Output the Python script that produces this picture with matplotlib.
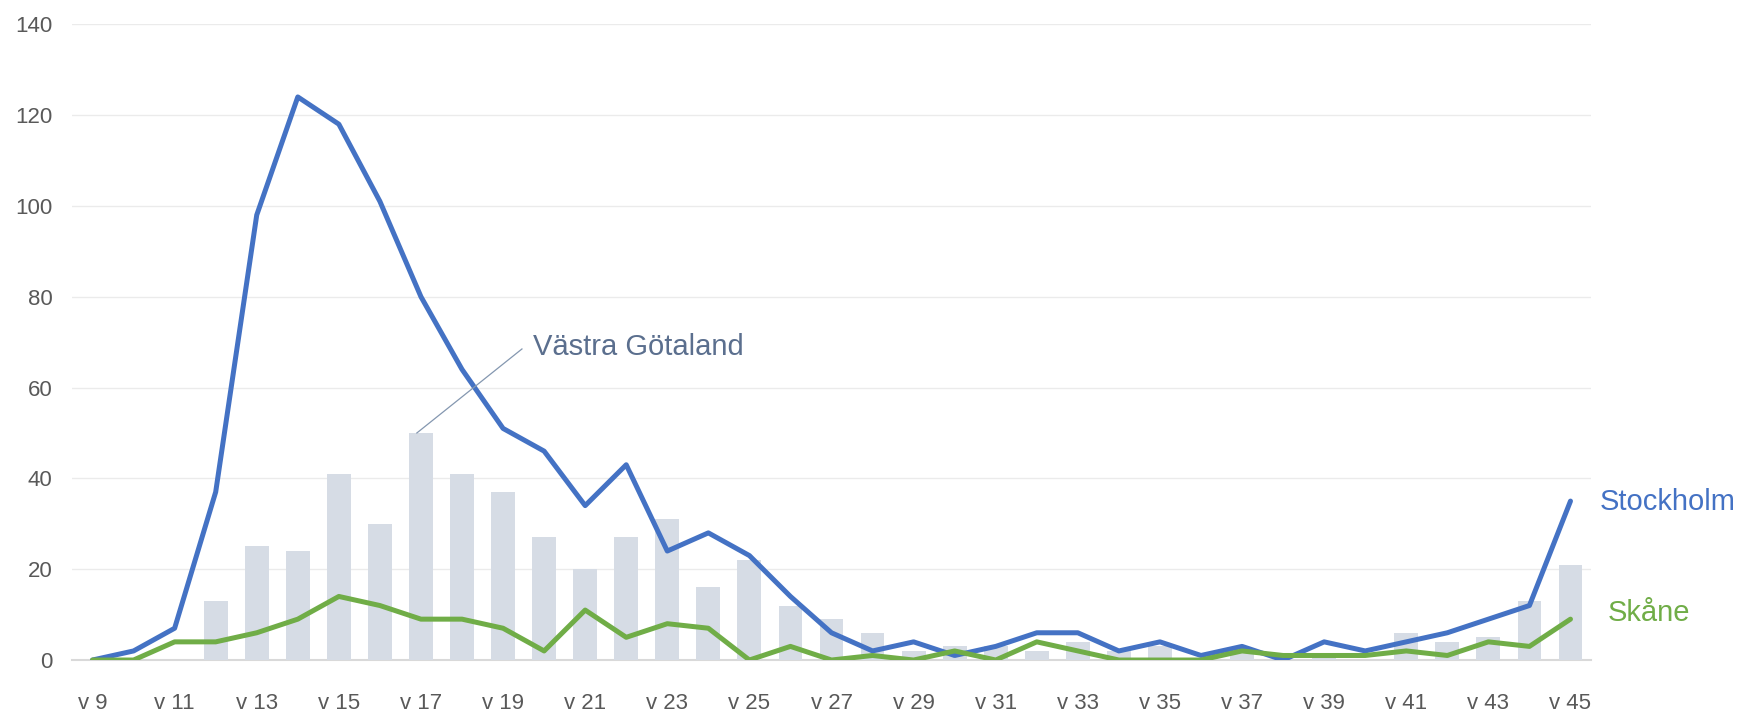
import numpy as np
import matplotlib.pyplot as plt

plt.rcParams['font.family'] = ['Liberation Sans', 'DejaVu Sans']

veckor = [f'v {v}' for v in range(9, 46)]

# Västra Götaland (staplar)
vastra_gotaland = [0, 0, 0, 13, 25, 24, 41, 30, 50, 41, 37, 27, 20, 27, 31, 16, 22, 12,
                   9, 6, 2, 3, 3, 2, 4, 2, 3, 0, 2, 0, 1, 0, 6, 4, 5, 13, 21]
# Stockholm (linje)
stockholm = [0, 2, 7, 37, 98, 124, 118, 101, 80, 64, 51, 46, 34, 43, 24, 28, 23, 14,
             6, 2, 4, 1, 3, 6, 6, 2, 4, 1, 3, 0, 4, 2, 4, 6, 9, 12, 35]
# Skåne (linje)
skane = [0, 0, 4, 4, 6, 9, 14, 12, 9, 9, 7, 2, 11, 5, 8, 7, 0, 3,
         0, 1, 0, 2, 0, 4, 2, 0, 0, 0, 2, 1, 1, 1, 2, 1, 4, 3, 9]

bla = '#4472C4'
gron = '#70AD47'
stapel = '#D6DCE5'
textgra = '#595959'

fig = plt.figure(figsize=(17.39, 7.14), dpi=100)
ax = fig.add_axes([0.0414, 0.0756, 0.8735, 0.8904])

x = np.arange(len(veckor))

ax.bar(x, vastra_gotaland, width=0.58, color=stapel, zorder=2)
ax.plot(x, stockholm, color=bla, linewidth=3.6, solid_joinstyle='round',
        solid_capstyle='round', zorder=3)
ax.plot(x, skane, color=gron, linewidth=3.6, solid_joinstyle='round',
        solid_capstyle='round', zorder=4)

ax.set_xlim(-0.5, len(veckor) - 0.5)
ax.set_ylim(0, 140)
ax.set_yticks(np.arange(0, 141, 20))
ax.set_xticks(x[::2])
ax.set_xticklabels(veckor[::2])

ax.grid(axis='y', color='#EBEBEB', linewidth=1.0, zorder=0)
ax.set_axisbelow(True)
for s in ['top', 'right', 'left']:
    ax.spines[s].set_visible(False)
ax.spines['bottom'].set_color('#D9D9D9')
ax.spines['bottom'].set_linewidth(1.5)
ax.spines['bottom'].set_zorder(1)

ax.tick_params(axis='both', length=0, labelsize=16, labelcolor=textgra)
ax.tick_params(axis='x', pad=24)
ax.tick_params(axis='y', pad=14)

# etiketter
ax.plot([7.9, 10.46], [50, 68.5], color='#8497B0', linewidth=0.9, zorder=5)
ax.text(10.72, 68.9, 'Västra Götaland', fontsize=21, color='#5B6F8E',
        va='center', ha='left')
ax.text(36.7, 34.8, 'Stockholm', fontsize=21, color=bla, va='center', ha='left', clip_on=False)
ax.text(36.9, 10.3, 'Skåne', fontsize=21, color=gron, va='center', ha='left', clip_on=False)

fig.savefig('out.png', dpi=100)
